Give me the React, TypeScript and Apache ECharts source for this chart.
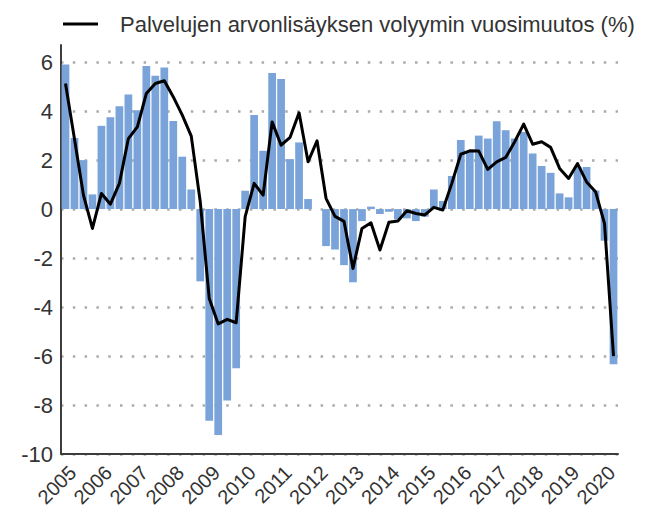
import React, { useEffect, useRef } from "react";
import * as echarts from "echarts";

const quarters: string[] = [
  "2005 Q1","2005 Q2","2005 Q3","2005 Q4",
  "2006 Q1","2006 Q2","2006 Q3","2006 Q4",
  "2007 Q1","2007 Q2","2007 Q3","2007 Q4",
  "2008 Q1","2008 Q2","2008 Q3","2008 Q4",
  "2009 Q1","2009 Q2","2009 Q3","2009 Q4",
  "2010 Q1","2010 Q2","2010 Q3","2010 Q4",
  "2011 Q1","2011 Q2","2011 Q3","2011 Q4",
  "2012 Q1","2012 Q2","2012 Q3","2012 Q4",
  "2013 Q1","2013 Q2","2013 Q3","2013 Q4",
  "2014 Q1","2014 Q2","2014 Q3","2014 Q4",
  "2015 Q1","2015 Q2","2015 Q3","2015 Q4",
  "2016 Q1","2016 Q2","2016 Q3","2016 Q4",
  "2017 Q1","2017 Q2","2017 Q3","2017 Q4",
  "2018 Q1","2018 Q2","2018 Q3","2018 Q4",
  "2019 Q1","2019 Q2","2019 Q3","2019 Q4",
  "2020 Q1","2020 Q2",
];

// Quarterly change (bars)
const quarterlyValues: number[] = [
  5.9, 2.9, 2.0, 0.6,
  3.4, 3.75, 4.2, 4.68,
  4.04, 5.84, 5.44, 5.78,
  3.6, 2.14, 0.8, -2.95,
  -8.64, -9.22, -7.82, -6.5,
  0.75, 3.84, 2.38, 5.56,
  5.31, 2.04, 2.72, 0.41,
  0.0, -1.51, -1.65, -2.29,
  -2.99, -0.49, 0.1, -0.2,
  -0.11, -0.42, -0.38, -0.49,
  -0.31, 0.8, 0.33, 1.35,
  2.82, 2.35, 3.0, 2.88,
  3.59, 3.22, 2.88, 3.15,
  2.27, 1.76, 1.48, 0.64,
  0.48, 1.72, 1.72, 0.76,
  -1.29, -6.34,
];

// Annual change of services value added volume (line)
const annualChange: number[] = [
  5.13, 2.86, 0.57, -0.79,
  0.64, 0.2, 1.05, 2.88,
  3.36, 4.72, 5.13, 5.24,
  4.58, 3.84, 2.98, 0.3,
  -3.65, -4.69, -4.5, -4.64,
  -0.31, 1.05, 0.57, 3.56,
  2.61, 2.93, 3.93, 1.93,
  2.79, 0.44, -0.3, -0.5,
  -2.42, -0.79, -0.56, -1.67,
  -0.54, -0.49, -0.07, -0.18,
  -0.24, 0.07, -0.04, 1.05,
  2.24, 2.38, 2.37, 1.62,
  1.93, 2.11, 2.75, 3.47,
  2.65, 2.75, 2.52, 1.66,
  1.25, 1.86, 1.11, 0.71,
  -0.59, -6.0,
];

const lineName = "Palvelujen arvonlisäyksen volyymin vuosimuutos (%)";
const barName = "Neljännesvuosimuutos";

const FONT = "'Liberation Sans', Arial, sans-serif";

export default function App() {
  const ref = useRef<HTMLDivElement>(null);
  useEffect(() => {
    if (!ref.current) return;
    const chart = echarts.init(ref.current, undefined, { renderer: "svg" });
    chart.setOption({
      animation: false,
      backgroundColor: "#ffffff",
      textStyle: { fontFamily: FONT },
      legend: {
        data: [lineName],
        left: 58,
        top: 8,
        icon: "rect",
        itemWidth: 35,
        itemHeight: 3,
        textStyle: { fontSize: 22, color: "#333", fontFamily: FONT, padding: [0, 0, 0, 17] },
      },
      grid: { left: 61, right: 31, top: 45, bottom: 56, containLabel: false, outerBoundsMode: "none" },
      xAxis: {
        type: "category",
        data: quarters,
        boundaryGap: true,
        axisLine: { onZero: false, lineStyle: { color: "#3d3d3d", width: 2 } },
        axisTick: { show: false },
        axisLabel: {
          interval: 3,
          rotate: 45,
          align: "right",
          verticalAlign: "top",
          margin: 8,
          fontSize: 20,
          color: "#333",
          fontFamily: FONT,
          formatter: (v: string) => v.slice(0, 4),
        },
        splitLine: { show: false },
      },
      yAxis: {
        type: "value",
        min: -10,
        max: 6.7,
        interval: 2,
        axisLine: { show: true, lineStyle: { color: "#3d3d3d", width: 2 } },
        axisTick: { show: false },
        axisLabel: {
          showMaxLabel: false,
          fontSize: 22,
          color: "#333",
          margin: 8,
          fontFamily: FONT,
        },
        splitLine: {
          show: true,
          showMaxLine: false,
          lineStyle: { color: "#aaaaaa", width: 2.5, type: [2.5, 9.3] },
        },
      },
      series: [
        {
          name: barName,
          type: "bar",
          data: quarterlyValues,
          barCategoryGap: "14%",
          itemStyle: { color: "#79a3d9" },
          z: 2,
        },
        {
          name: lineName,
          type: "line",
          data: annualChange,
          symbol: "none",
          lineStyle: { color: "#000", width: 3, join: "round" },
          itemStyle: { color: "#000" },
          z: 3,
        },
      ],
    });
    return () => chart.dispose();
  }, []);
  return <div ref={ref} style={{ width: 649, height: 510, position: "absolute", left: 0, top: 0 }} />;
}
